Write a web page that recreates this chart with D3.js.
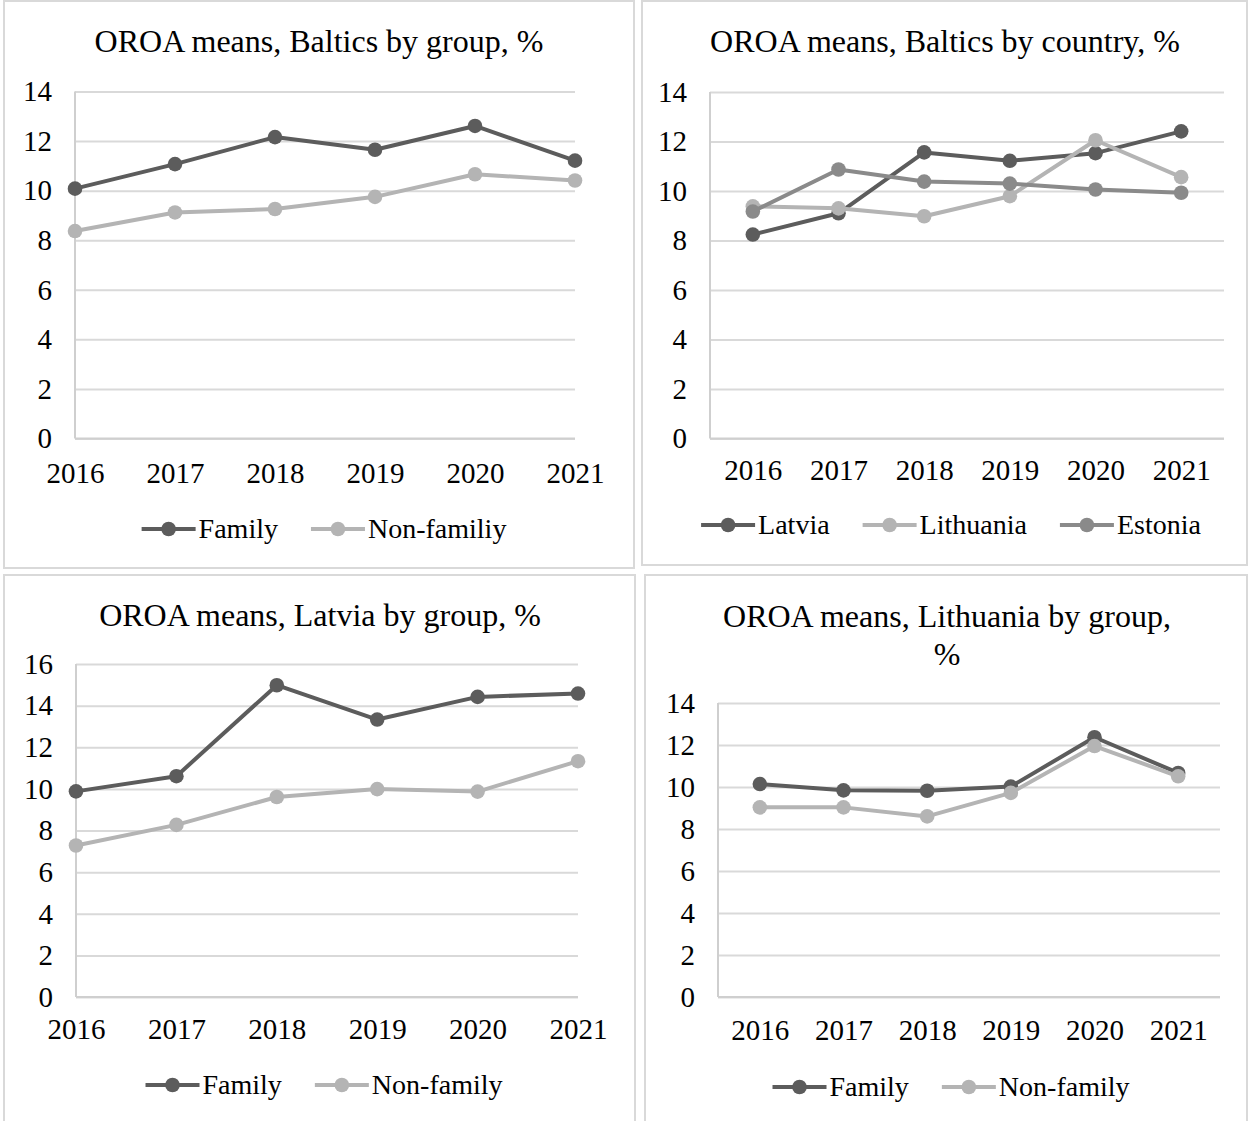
<!DOCTYPE html>
<html>
<head>
<meta charset="utf-8">
<script src="https://cdn.jsdelivr.net/npm/d3@7"></script>
<style>
  html, body { margin: 0; padding: 0; background: #ffffff; }
  svg { display: block; }
  text { font-family: "Liberation Serif", "Times New Roman", serif; fill: #000000; }
</style>
</head>
<body>
<svg id="chart" width="1249" height="1121"></svg>
<script>
// Years on the category axis
const years = ["2016", "2017", "2018", "2019", "2020", "2021"];

// Y axis tick values
const ticksTo14 = [0, 2, 4, 6, 8, 10, 12, 14];
const ticksTo16 = [0, 2, 4, 6, 8, 10, 12, 14, 16];

// OROA means, Baltics by group, %
const balticsFamily    = [10.08, 11.07, 12.16, 11.65, 12.61, 11.21];
const balticsNonFamily = [8.37, 9.12, 9.26, 9.75, 10.66, 10.41];

// OROA means, Baltics by country, %
const countryLatvia    = [8.24, 9.10, 11.56, 11.22, 11.53, 12.41];
const countryLithuania = [9.38, 9.30, 8.98, 9.79, 12.05, 10.56];
const countryEstonia   = [9.17, 10.87, 10.38, 10.30, 10.06, 9.93];

// OROA means, Latvia by group, %
const latviaFamily    = [9.88, 10.61, 14.98, 13.33, 14.42, 14.58];
const latviaNonFamily = [7.28, 8.27, 9.61, 9.99, 9.87, 11.33];

// OROA means, Lithuania by group, %
const lithuaniaFamily    = [10.14, 9.84, 9.82, 10.02, 12.37, 10.67];
const lithuaniaNonFamily = [9.03, 9.03, 8.60, 9.72, 11.95, 10.51];

const DARK = "#5c5c5c", LIGHT = "#b4b4b4", MID = "#8a8a8a";
const FONT = 29, LEGEND_FONT = 28, TITLE_FONT = 32;

const svg = d3.select("#chart");
svg.append("rect").attr("width", 1249).attr("height", 1121).attr("fill", "#ffffff");

const panels = [
  {
    title: ["OROA means, Baltics by group, %"], titleX: 319, titleY: [52],
    frame: [4, 1, 630, 567],
    xRange: [75, 575], pointPadding: 0, yRange: [438.5, 91.5], yMax: 14, ticks: ticksTo14,
    xLabelBase: 483, legendY: 529, legendCx: 324,
    series: [
      { name: "Family", values: balticsFamily, color: DARK },
      { name: "Non-familiy", values: balticsNonFamily, color: LIGHT }
    ]
  },
  {
    title: ["OROA means, Baltics by country, %"], titleX: 945, titleY: [52],
    frame: [642, 1, 605, 564],
    xRange: [710, 1224], pointPadding: 0.5, yRange: [438.5, 92], yMax: 14, ticks: ticksTo14,
    xLabelBase: 480, legendY: 525, legendCx: 951,
    series: [
      { name: "Latvia", values: countryLatvia, color: DARK },
      { name: "Lithuania", values: countryLithuania, color: LIGHT },
      { name: "Estonia", values: countryEstonia, color: MID }
    ]
  },
  {
    title: ["OROA means, Latvia by group, %"], titleX: 320, titleY: [626],
    frame: [4, 575, 631, 560],
    xRange: [76, 578], pointPadding: 0, yRange: [997, 664], yMax: 16, ticks: ticksTo16,
    xLabelBase: 1039, legendY: 1085, legendCx: 324,
    series: [
      { name: "Family", values: latviaFamily, color: DARK },
      { name: "Non-family", values: latviaNonFamily, color: LIGHT }
    ]
  },
  {
    title: ["OROA means, Lithuania by group,", "%"], titleX: 947, titleY: [627, 665],
    frame: [645, 575, 602, 560],
    xRange: [718, 1220], pointPadding: 0.5, yRange: [997, 703], yMax: 14, ticks: ticksTo14,
    xLabelBase: 1040, legendY: 1087, legendCx: 951,
    series: [
      { name: "Family", values: lithuaniaFamily, color: DARK },
      { name: "Non-family", values: lithuaniaNonFamily, color: LIGHT }
    ]
  }
];

panels.forEach(p => {
  const g = svg.append("g");

  // chart frame
  g.append("rect")
    .attr("x", p.frame[0]).attr("y", p.frame[1])
    .attr("width", p.frame[2]).attr("height", p.frame[3])
    .attr("fill", "#ffffff").attr("stroke", "#d9d9d9").attr("stroke-width", 2);

  // title
  const title = g.append("text")
    .attr("text-anchor", "middle")
    .attr("font-size", TITLE_FONT);
  p.title.forEach((line, i) => {
    title.append("tspan").attr("x", p.titleX).attr("y", p.titleY[i]).text(line);
  });

  const x = d3.scalePoint().domain(years).range(p.xRange).padding(p.pointPadding);
  const y = d3.scaleLinear().domain([0, p.yMax]).range(p.yRange);
  const plotW = p.xRange[1] - p.xRange[0];

  // value axis with horizontal gridlines
  const yAxis = g.append("g")
    .attr("transform", `translate(${p.xRange[0]},0)`)
    .call(d3.axisLeft(y).tickValues(p.ticks).tickSize(-plotW).tickPadding(23).tickFormat(d3.format("d")));
  yAxis.attr("font-family", null);
  yAxis.select(".domain").remove();
  yAxis.selectAll(".tick line").attr("stroke", "#d9d9d9").attr("stroke-width", 2);
  yAxis.selectAll(".tick text")
    .attr("font-size", FONT)
    .attr("fill", "#000");

  // vertical axis line
  g.append("line")
    .attr("x1", p.xRange[0]).attr("x2", p.xRange[0])
    .attr("y1", p.yRange[1]).attr("y2", p.yRange[0])
    .attr("stroke", "#cfcfcf").attr("stroke-width", 2);

  // category axis
  const xAxis = g.append("g")
    .attr("transform", `translate(0,${p.yRange[0]})`)
    .call(d3.axisBottom(x).tickSize(0));
  xAxis.attr("font-family", null);
  xAxis.select(".domain")
    .attr("d", `M${p.xRange[0]},0H${p.xRange[1]}`)
    .attr("stroke", "#cfcfcf").attr("stroke-width", 2);
  xAxis.selectAll(".tick text")
    .attr("y", p.xLabelBase - p.yRange[0]).attr("dy", null)
    .attr("font-size", FONT)
    .attr("fill", "#000");

  // series lines and markers
  const line = d3.line().x((d, i) => x(years[i])).y(d => y(d));
  p.series.forEach(s => {
    const sg = g.append("g");
    sg.append("path")
      .attr("d", line(s.values))
      .attr("fill", "none").attr("stroke", s.color)
      .attr("stroke-width", 4).attr("stroke-linejoin", "round");
    sg.selectAll("circle").data(s.values).join("circle")
      .attr("cx", (d, i) => x(years[i])).attr("cy", d => y(d))
      .attr("r", 7.3).attr("fill", s.color);
  });

  // legend, centred under the plot
  const legend = g.append("g");
  const items = p.series.map(s => {
    const it = legend.append("g");
    it.append("line").attr("x1", 0).attr("x2", 54).attr("y1", 0).attr("y2", 0)
      .attr("stroke", s.color).attr("stroke-width", 4);
    it.append("circle").attr("cx", 27).attr("cy", 0).attr("r", 7.3).attr("fill", s.color);
    const t = it.append("text").attr("x", 57).attr("y", 0).attr("dy", "0.33em")
      .attr("font-size", LEGEND_FONT).text(s.name);
    return { g: it, w: 57 + t.node().getComputedTextLength() };
  });
  const gap = 33;
  const total = d3.sum(items, d => d.w) + gap * (items.length - 1);
  let cx = p.legendCx - total / 2;
  items.forEach(it => {
    it.g.attr("transform", `translate(${cx},${p.legendY})`);
    cx += it.w + gap;
  });
});
</script>
</body>
</html>
